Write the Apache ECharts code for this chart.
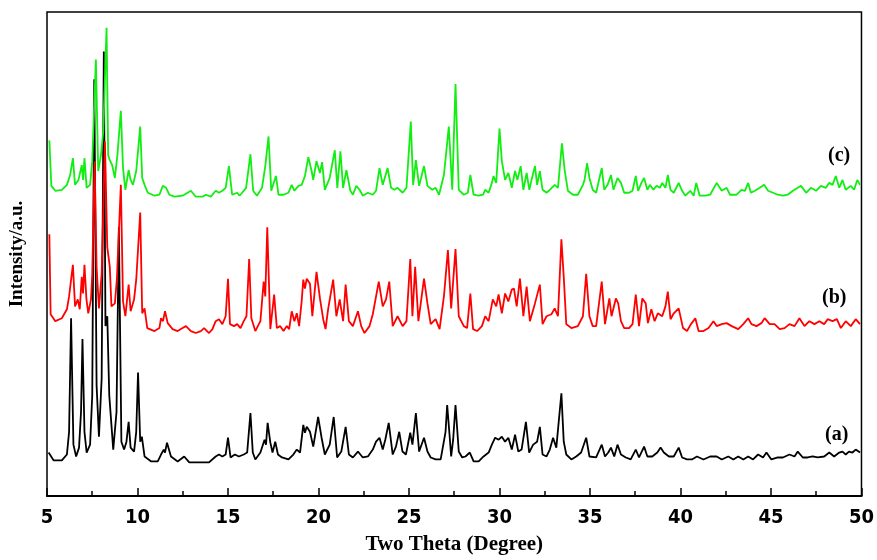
<!DOCTYPE html>
<html>
<head>
<meta charset="utf-8">
<script src="https://cdn.jsdelivr.net/npm/echarts@6/dist/echarts.min.js"></script>
<style>
  html, body { margin: 0; padding: 0; background: #fff; }
  #chart { width: 877px; height: 560px; }
</style>
</head>
<body>
<div id="chart"></div>
<script>
// XRD patterns: [2-theta (deg), intensity above own baseline (a.u.)]
const patternA = [
  [5.09,12],[5.37,4],[5.82,4],[6.10,10],[6.22,33],[6.33,148],[6.46,20],[6.61,8],[6.77,17],[6.88,53],
  [6.96,127],[7.07,33],[7.19,12],[7.38,20],[7.50,70],[7.61,390],[7.74,80],[7.87,28],[8.02,87],[8.14,418],
  [8.23,140],[8.33,150],[8.44,70],[8.66,15],[8.84,53],[8.97,240],[9.11,23],[9.26,15],[9.39,23],[9.51,43],
  [9.62,17],[9.81,13],[9.93,33],[10.03,93],[10.15,23],[10.24,28],[10.39,8],[10.76,3],[11.12,3],[11.30,10],
  [11.45,15],[11.52,12],[11.63,22],[11.85,8],[12.22,3],[12.58,8],[12.86,2],[13.41,2],[13.95,2],[14.32,8],
  [14.50,10],[14.69,8],[14.87,10],[15.00,27],[15.14,7],[15.38,10],[15.60,8],[15.87,10],[16.06,12],[16.24,52],
  [16.37,12],[16.51,5],[16.79,12],[17.02,25],[17.10,20],[17.19,42],[17.34,22],[17.46,12],[17.61,23],[17.76,10],
  [17.98,7],[18.34,5],[18.61,10],[18.80,15],[18.98,12],[19.16,40],[19.25,32],[19.35,38],[19.53,33],[19.71,18],
  [19.98,48],[20.17,27],[20.35,10],[20.62,20],[20.84,48],[21.03,7],[21.26,13],[21.50,38],[21.68,10],[21.90,7],
  [22.18,13],[22.45,7],[22.73,8],[23.00,15],[23.18,23],[23.37,27],[23.55,15],[23.69,25],[23.88,42],[24.10,10],
  [24.28,18],[24.46,33],[24.64,13],[24.83,10],[25.07,32],[25.19,20],[25.38,52],[25.56,13],[25.83,27],[26.02,13],
  [26.20,7],[26.47,5],[26.75,5],[27.02,33],[27.11,60],[27.24,30],[27.33,8],[27.44,25],[27.57,60],[27.75,13],
  [27.94,7],[28.12,8],[28.36,12],[28.57,3],[28.85,3],[29.12,8],[29.40,12],[29.58,20],[29.76,27],[29.95,25],
  [30.13,28],[30.31,23],[30.49,27],[30.68,15],[30.86,30],[31.04,13],[31.22,15],[31.46,43],[31.64,12],[31.86,20],
  [32.08,23],[32.23,38],[32.38,10],[32.60,8],[32.78,15],[32.96,27],[33.14,17],[33.42,72],[33.55,23],[33.69,10],
  [33.97,5],[34.24,8],[34.51,12],[34.79,27],[34.97,8],[35.34,7],[35.65,20],[35.83,8],[36.01,12],[36.16,17],
  [36.34,8],[36.52,20],[36.71,10],[36.98,7],[37.25,5],[37.53,15],[37.71,7],[37.99,18],[38.17,8],[38.44,8],
  [38.72,12],[38.90,17],[39.08,12],[39.36,8],[39.63,8],[39.90,17],[40.09,7],[40.36,5],[40.63,5],[40.91,8],
  [41.27,5],[41.64,8],[42.00,8],[42.28,5],[42.64,8],[42.92,5],[43.19,8],[43.47,5],[43.74,8],[44.01,5],
  [44.29,10],[44.56,7],[44.75,12],[45.02,5],[45.38,7],[45.66,7],[46.02,10],[46.30,8],[46.48,13],[46.76,7],
  [47.03,7],[47.30,8],[47.58,7],[47.94,8],[48.22,12],[48.49,8],[48.77,12],[48.95,13],[49.13,10],[49.31,13],
  [49.50,12],[49.68,15],[49.92,12]
];

const patternB = [
  [5.13,103],[5.20,22],[5.46,15],[5.82,18],[6.10,27],[6.22,40],[6.43,72],[6.55,30],[6.70,37],[6.81,27],
  [6.92,60],[6.99,43],[7.07,72],[7.18,37],[7.28,23],[7.43,37],[7.50,63],[7.63,177],[7.74,70],[7.87,28],
  [8.02,63],[8.20,197],[8.33,90],[8.47,70],[8.56,30],[8.75,33],[8.86,57],[9.08,153],[9.20,35],[9.33,20],
  [9.51,52],[9.62,25],[9.81,37],[9.93,57],[10.15,125],[10.26,23],[10.39,28],[10.54,8],[10.94,5],[11.21,8],
  [11.30,18],[11.41,15],[11.52,25],[11.67,13],[11.94,7],[12.22,5],[12.49,8],[12.68,10],[12.95,5],[13.22,3],
  [13.50,5],[13.68,8],[13.95,3],[14.14,7],[14.32,15],[14.50,17],[14.69,12],[14.87,20],[15.00,58],[15.11,12],
  [15.33,10],[15.51,12],[15.69,8],[15.87,15],[16.02,20],[16.17,78],[16.29,18],[16.51,5],[16.79,15],[16.97,55],
  [17.06,40],[17.17,110],[17.34,7],[17.55,42],[17.70,8],[17.88,10],[18.07,5],[18.25,10],[18.38,7],[18.52,25],
  [18.67,15],[18.80,23],[18.93,10],[19.07,35],[19.16,57],[19.25,48],[19.35,58],[19.53,53],[19.66,20],[19.89,65],
  [20.08,38],[20.26,17],[20.39,7],[20.53,27],[20.81,57],[20.99,20],[21.17,37],[21.36,15],[21.50,52],[21.68,15],
  [21.90,10],[22.18,25],[22.36,10],[22.54,3],[22.82,10],[23.00,22],[23.33,55],[23.55,30],[23.73,37],[23.91,55],
  [24.10,10],[24.37,20],[24.65,10],[24.86,15],[25.07,78],[25.19,20],[25.34,70],[25.52,15],[25.83,58],[26.02,33],
  [26.20,12],[26.47,17],[26.69,7],[26.93,40],[27.15,87],[27.33,28],[27.57,88],[27.75,20],[28.03,10],[28.21,8],
  [28.39,43],[28.54,7],[28.76,5],[29.03,10],[29.21,20],[29.40,15],[29.63,37],[29.82,30],[29.95,42],[30.13,23],
  [30.31,43],[30.49,35],[30.68,47],[30.80,48],[30.95,30],[31.13,58],[31.32,20],[31.50,50],[31.68,15],[31.96,33],
  [32.23,52],[32.38,12],[32.60,20],[32.87,22],[33.05,28],[33.23,20],[33.42,98],[33.55,60],[33.69,12],[33.97,8],
  [34.33,10],[34.61,20],[34.79,63],[34.97,20],[35.15,10],[35.34,10],[35.65,55],[35.83,12],[36.07,38],[36.19,20],
  [36.43,38],[36.56,33],[36.71,15],[36.89,8],[37.16,8],[37.35,12],[37.53,42],[37.71,10],[37.89,38],[38.08,33],
  [38.20,13],[38.39,27],[38.57,15],[38.75,23],[38.99,20],[39.17,30],[39.30,45],[39.45,17],[39.63,23],[39.90,28],
  [40.14,8],[40.36,5],[40.58,12],[40.82,18],[41.00,5],[41.27,5],[41.55,8],[41.82,15],[42.00,10],[42.28,12],
  [42.55,13],[42.83,10],[43.19,7],[43.47,12],[43.74,18],[43.92,12],[44.20,10],[44.47,13],[44.65,18],[44.93,12],
  [45.20,12],[45.48,7],[45.75,8],[46.02,12],[46.30,10],[46.57,18],[46.85,10],[47.12,15],[47.40,12],[47.67,15],
  [47.94,12],[48.13,17],[48.40,15],[48.64,17],[48.86,8],[49.13,15],[49.41,10],[49.68,17],[49.92,12]
];

const patternC = [
  [5.13,58],[5.24,12],[5.46,7],[5.82,8],[6.10,13],[6.28,23],[6.43,40],[6.55,13],[6.74,18],[6.92,33],
  [6.99,18],[7.07,40],[7.19,10],[7.38,13],[7.50,37],[7.70,140],[7.83,27],[7.98,43],[8.11,67],[8.29,172],
  [8.38,43],[8.47,38],[8.60,33],[8.75,20],[8.89,43],[9.08,88],[9.20,30],[9.33,8],[9.51,28],[9.62,18],
  [9.75,13],[9.93,27],[10.15,72],[10.26,20],[10.39,13],[10.57,5],[10.94,2],[11.21,3],[11.40,12],[11.58,10],
  [11.76,3],[12.04,1],[12.49,2],[12.95,7],[13.22,1],[13.59,1],[13.77,3],[14.05,1],[14.32,7],[14.50,5],
  [14.69,7],[14.87,10],[15.05,32],[15.23,3],[15.51,5],[15.64,2],[15.78,5],[16.00,10],[16.24,44],[16.39,7],
  [16.60,2],[16.88,10],[17.06,32],[17.24,62],[17.39,7],[17.65,22],[17.79,3],[18.07,3],[18.34,5],[18.52,13],
  [18.67,7],[18.89,12],[19.07,13],[19.25,22],[19.44,41],[19.62,27],[19.71,18],[19.89,37],[20.08,25],[20.20,36],
  [20.35,8],[20.62,20],[20.90,48],[21.04,10],[21.21,47],[21.36,10],[21.54,28],[21.76,7],[21.90,3],[22.09,12],
  [22.27,8],[22.45,2],[22.73,5],[23.00,3],[23.18,7],[23.37,30],[23.55,13],[23.82,30],[24.01,10],[24.19,8],
  [24.37,10],[24.65,5],[24.86,10],[25.10,77],[25.23,13],[25.38,38],[25.56,12],[25.83,32],[26.02,12],[26.29,8],
  [26.47,10],[26.66,3],[26.93,23],[27.20,72],[27.39,8],[27.57,115],[27.75,8],[28.03,3],[28.25,5],[28.39,23],
  [28.57,3],[28.85,2],[29.09,3],[29.21,8],[29.40,5],[29.58,15],[29.67,22],[29.82,15],[30.00,70],[30.13,37],
  [30.31,18],[30.49,25],[30.68,10],[30.86,27],[30.99,18],[31.17,32],[31.32,8],[31.50,25],[31.65,8],[31.77,18],
  [31.96,32],[32.08,13],[32.23,27],[32.38,8],[32.60,5],[32.78,8],[33.05,13],[33.23,10],[33.45,55],[33.60,28],
  [33.78,7],[34.06,3],[34.33,3],[34.61,13],[34.70,18],[34.84,35],[34.97,20],[35.15,8],[35.34,5],[35.65,30],
  [35.79,8],[35.97,13],[36.16,23],[36.30,8],[36.52,20],[36.71,15],[36.89,5],[37.16,5],[37.35,7],[37.53,22],
  [37.66,7],[37.84,15],[37.99,20],[38.17,8],[38.31,13],[38.50,8],[38.68,12],[38.86,10],[38.99,15],[39.17,10],
  [39.30,23],[39.45,8],[39.63,5],[39.90,15],[40.09,7],[40.27,2],[40.54,7],[40.73,2],[40.87,15],[41.06,2],
  [41.37,2],[41.64,3],[42.00,15],[42.28,7],[42.55,10],[42.74,3],[43.10,3],[43.37,8],[43.56,7],[43.74,15],
  [43.89,5],[44.11,7],[44.38,10],[44.62,13],[44.84,7],[45.11,5],[45.38,3],[45.66,2],[45.93,3],[46.21,7],
  [46.48,10],[46.66,12],[46.94,5],[47.21,10],[47.49,7],[47.76,12],[48.03,10],[48.22,15],[48.40,13],[48.58,22],
  [48.77,10],[48.95,18],[49.13,8],[49.41,12],[49.59,8],[49.77,18],[49.92,13]
];

const sampleLabels = ['(a)', '(b)', '(c)'];
const xTicks = [5, 10, 15, 20, 25, 30, 35, 40, 45, 50];

// vertical stacking of the three patterns
const offsets = [32, 162, 302];
const colors = ['#000000', '#ff0000', '#11ee11'];
const patterns = [patternA, patternB, patternC];

const chart = echarts.init(document.getElementById('chart'), null, { renderer: 'canvas' });

const serifBold = { fontFamily: '"Liberation Serif", "Times New Roman", serif', fontWeight: 'bold', color: '#000' };

chart.setOption({
  animation: false,
  backgroundColor: '#fff',
  grid: {
    left: 45, right: 12, top: 12, bottom: 58,
    show: true, borderColor: '#000', borderWidth: 1.5, backgroundColor: 'transparent'
  },
  xAxis: {
    type: 'value',
    min: xTicks[0], max: xTicks[xTicks.length - 1], interval: 5,
    name: 'Two Theta (Degree)',
    nameLocation: 'middle', nameGap: 38,
    nameTextStyle: Object.assign({ fontSize: 21 }, serifBold),
    axisLine: { show: true, onZero: false, lineStyle: { color: '#000', width: 2 } },
    axisTick: { show: true, inside: true, length: 8, lineStyle: { color: '#000', width: 1.5 } },
    minorTick: { show: true, splitNumber: 2, length: 5, lineStyle: { color: '#000', width: 1.5 } },
    axisLabel: {
      margin: 12, fontSize: 20, fontWeight: 'bold', color: '#000',
      fontFamily: '"Liberation Sans Narrow", "Arial Narrow", "DejaVu Sans Condensed", sans-serif'
    },
    splitLine: { show: false }
  },
  yAxis: {
    type: 'value', min: 0, max: 490,
    name: 'Intensity/a.u.',
    nameLocation: 'middle', nameGap: 20, nameRotate: 90,
    nameTextStyle: Object.assign({ fontSize: 19 }, serifBold),
    axisLine: { show: false }, axisTick: { show: false }, axisLabel: { show: false },
    splitLine: { show: false }
  },
  series: patterns.map((p, i) => ({
    type: 'line',
    name: sampleLabels[i],
    data: p.map(d => [d[0], d[1] + offsets[i]]),
    showSymbol: false,
    symbol: 'none',
    lineStyle: { color: colors[i], width: 1.8 },
    z: 2 + i
  })),
  graphic: [
    { type: 'text', left: 825, top: 425, style: Object.assign({ text: sampleLabels[0], fontSize: 20 }, serifBold) },
    { type: 'text', left: 822, top: 288, style: Object.assign({ text: sampleLabels[1], fontSize: 20 }, serifBold) },
    { type: 'text', left: 828, top: 146, style: Object.assign({ text: sampleLabels[2], fontSize: 20 }, serifBold) }
  ]
});
</script>
</body>
</html>
